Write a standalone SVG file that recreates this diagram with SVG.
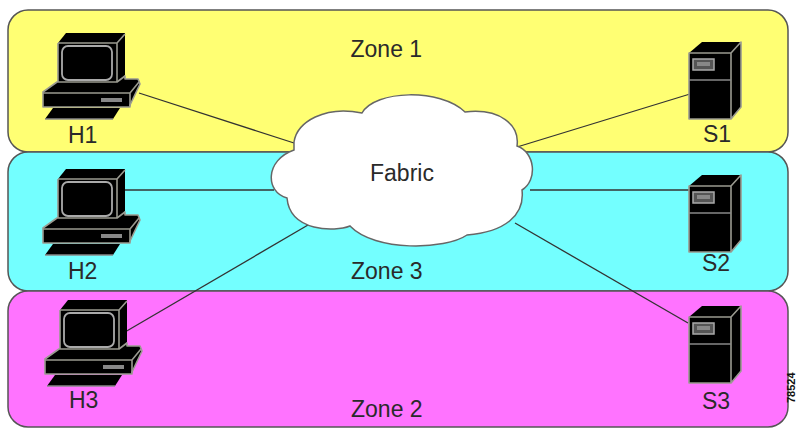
<svg xmlns="http://www.w3.org/2000/svg" width="798" height="428" viewBox="0 0 798 428">
<style>
text{font-family:"Liberation Sans",Arial,sans-serif;font-size:23px;fill:#2a2a2a}
.zone{stroke:#555;stroke-width:1.5}
.conn{stroke:#333;stroke-width:1.3;fill:none}
.k{fill:#000;stroke:#9a9a90;stroke-width:1.6;stroke-linejoin:round}
.e{fill:none;stroke:#9a9a90;stroke-width:1.6;stroke-linejoin:round}
.m{fill:#000;stroke:#aaa;stroke-width:1.8}
.g{fill:#888;stroke:none}
</style>
<defs>
<g id="pc">
<path d="M58 43L66 33H125V75L117 85H58Z" fill="#000"/>
<path class="e" d="M58 43H117L125 34M117 43V85M58 43V85H117"/>
<rect class="m" x="62" y="46" width="50" height="34" rx="6"/>
<path class="k" d="M43 92L57 82H117L125 76V79H138L140 84L130 105V107H43Z"/>
<path class="e" d="M43 93H130L139 82M130 93V106"/>
<rect class="g" x="101" y="98" width="21" height="4"/>
<path d="M53 108H120L113 119H45Z" fill="#000"/>
<path d="M45 119H113" stroke="#888" stroke-width="1.5"/>
</g>
<g id="srv">
<path d="M689 53L702 42H741V107L731 119H689Z" fill="#000"/>
<path class="e" d="M689 53V119H731L741 107V42L731 53ZM689 53H731V119"/>
<path d="M689 80H731" stroke="#888" stroke-width="1.5"/>
<rect x="693" y="59" width="21" height="11" fill="#555" stroke="#aaa" stroke-width="1.5"/>
<rect x="697" y="62" width="13" height="4" fill="#888"/>
</g>
</defs>
<rect width="798" height="428" fill="#fff"/>
<g id="zone1"><rect class="zone" x="8" y="10" width="780" height="142" rx="20" fill="#ffff73"/><text x="350.5" y="57">Zone 1</text></g>
<g id="zone3"><rect class="zone" x="8" y="152" width="780" height="139" rx="20" fill="#73ffff"/><text x="351" y="279">Zone 3</text></g>
<g id="zone2"><rect class="zone" x="8" y="291" width="780" height="136" rx="20" fill="#ff73ff"/><text x="351" y="417">Zone 2</text></g>
<g id="connectors">
<path class="conn" d="M139 93L294 143"/>
<path class="conn" d="M690 94L517 147"/>
<path class="conn" d="M125 190H274"/>
<path class="conn" d="M692 190H530"/>
<path class="conn" d="M125 332L308 225"/>
<path class="conn" d="M688 323L515 223"/>
</g>
<g id="fabric">
<path d="M294 142C297 122 325 105 362 113C375 90 440 88 465 112C500 108 520 125 517 146C535 152 538 180 522 190C525 215 505 232 467 235C445 250 375 252 350 226C335 232 290 232 287 198C265 192 265 160 294 150Z" fill="#fff" stroke="#666" stroke-width="1.5"/>
<text x="370" y="181">Fabric</text>
</g>
<g id="H1"><use href="#pc"/><text x="68" y="143">H1</text></g>
<g id="H2"><use href="#pc" y="136"/><text x="68" y="279">H2</text></g>
<g id="H3"><use href="#pc" x="2" y="267"/><text x="69" y="408">H3</text></g>
<g id="S1"><use href="#srv"/><text x="703" y="142">S1</text></g>
<g id="S2"><use href="#srv" y="133"/><text x="702" y="271">S2</text></g>
<g id="S3"><use href="#srv" y="264"/><text x="702" y="409">S3</text></g>
<text transform="translate(795 403) rotate(-90)" style="font-size:11px;font-weight:bold;fill:#111">78524</text>
</svg>
